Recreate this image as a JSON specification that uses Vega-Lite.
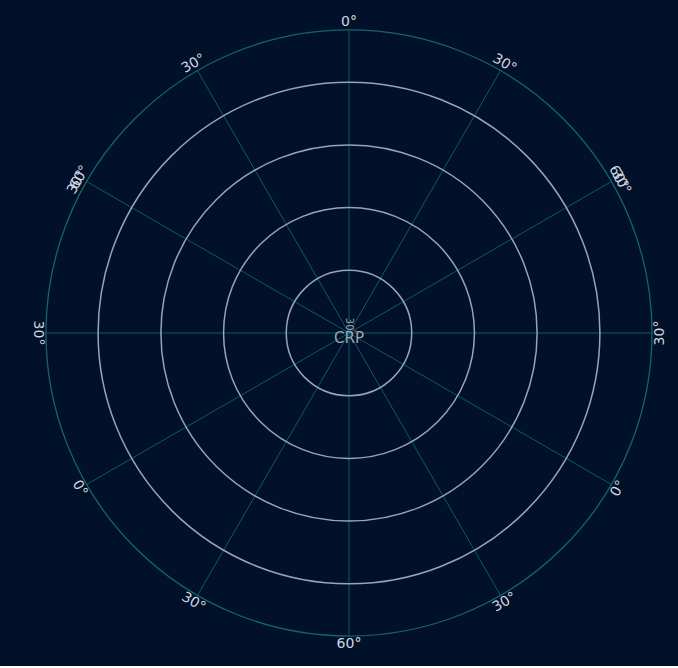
{
  "$schema": "https://vega.github.io/schema/vega-lite/v6.json",
  "width": 660,
  "height": 666,
  "autosize": {"type": "none"},
  "padding": {"left": 19, "top": 0, "right": 0, "bottom": 0},
  "background": "#01112a",
  "config": {"view": {"stroke": null}, "font": "DejaVu Sans"},
  "datasets": {
    "rings": [{"r": 1}, {"r": 2}, {"r": 3}, {"r": 4}],
    "outer": [{"r": 4.833}],
    "spokes": [
      {"bearing": 0, "x0": 0, "y0": 0, "x1": 0, "y1": 4.833},
      {"bearing": 30, "x0": 0, "y0": 0, "x1": 2.4165, "y1": 4.1855},
      {"bearing": 60, "x0": 0, "y0": 0, "x1": 4.1855, "y1": 2.4165},
      {"bearing": 90, "x0": 0, "y0": 0, "x1": 4.833, "y1": 0},
      {"bearing": 120, "x0": 0, "y0": 0, "x1": 4.1855, "y1": -2.4165},
      {"bearing": 150, "x0": 0, "y0": 0, "x1": 2.4165, "y1": -4.1855},
      {"bearing": 180, "x0": 0, "y0": 0, "x1": 0, "y1": -4.833},
      {"bearing": 210, "x0": 0, "y0": 0, "x1": -2.4165, "y1": -4.1855},
      {"bearing": 240, "x0": 0, "y0": 0, "x1": -4.1855, "y1": -2.4165},
      {"bearing": 270, "x0": 0, "y0": 0, "x1": -4.833, "y1": 0},
      {"bearing": 300, "x0": 0, "y0": 0, "x1": -4.1855, "y1": 2.4165},
      {"bearing": 330, "x0": 0, "y0": 0, "x1": -2.4165, "y1": 4.1855}
    ],
    "labels": [
      {"bearing": 0, "r": 4.96, "label": "0°"},
      {"bearing": 30, "r": 4.96, "label": "30°"},
      {"bearing": 60, "r": 4.96, "label": "60°"},
      {"bearing": 61, "r": 4.96, "label": "30°"},
      {"bearing": 90, "r": 4.96, "label": "30°"},
      {"bearing": 120, "r": 4.96, "label": "0°"},
      {"bearing": 150, "r": 4.96, "label": "30°"},
      {"bearing": 180, "r": 4.96, "label": "60°"},
      {"bearing": 210, "r": 4.96, "label": "30°"},
      {"bearing": 240, "r": 4.96, "label": "0°"},
      {"bearing": 270, "r": 4.96, "label": "30°"},
      {"bearing": 300, "r": 4.96, "label": "60°"},
      {"bearing": 299, "r": 4.96, "label": "30°"},
      {"bearing": 330, "r": 4.96, "label": "30°"}
    ],
    "center": [{"x": 0, "y": -0.08, "label": "CRP"}],
    "centerTop": [{"x": 0, "y": 0.14, "label": "30"}],
    "dot": [{"x": 0.1, "y": 0.03}]
  },
  "layer": [
    {
      "data": {"name": "spokes"},
      "mark": {"type": "rule", "stroke": "#0d5a63", "strokeWidth": 1},
      "encoding": {
        "x": {"field": "x0", "type": "quantitative", "scale": {"domain": [-5.263, 5.263], "nice": false, "zero": false}, "axis": null},
        "y": {"field": "y0", "type": "quantitative", "scale": {"domain": [-5.311, 5.311], "nice": false, "zero": false}, "axis": null},
        "x2": {"field": "x1"},
        "y2": {"field": "y1"}
      }
    },
    {
      "data": {"name": "rings"},
      "mark": {"type": "arc", "filled": false, "stroke": "#9ba4b1", "strokeWidth": 1.5},
      "encoding": {
        "theta": {"datum": 0, "type": "quantitative", "stack": null, "scale": {"domain": [0, 360]}},
        "theta2": {"datum": 360},
        "radius": {"field": "r", "type": "quantitative", "stack": null, "scale": {"type": "linear", "domain": [0, 5.263], "zero": true, "nice": false}}
      }
    },
    {
      "data": {"name": "outer"},
      "mark": {"type": "arc", "filled": false, "stroke": "#17636d", "strokeWidth": 1.3},
      "encoding": {
        "theta": {"datum": 0, "type": "quantitative", "stack": null},
        "theta2": {"datum": 360},
        "radius": {"field": "r", "type": "quantitative", "stack": null}
      }
    },
    {
      "data": {"name": "labels"},
      "mark": {"type": "text", "fontSize": 14, "color": "#d3d7de", "baseline": "middle", "align": "center"},
      "encoding": {
        "theta": {"field": "bearing", "type": "quantitative", "stack": null},
        "radius": {"field": "r", "type": "quantitative", "stack": null},
        "angle": {"field": "bearing", "type": "quantitative", "scale": {"type": "linear", "domain": [0, 89, 90, 270, 271, 360], "range": [0, 89, -90, 90, -89, 0]}, "legend": null},
        "text": {"field": "label"}
      }
    },
    {
      "data": {"name": "center"},
      "mark": {"type": "text", "fontSize": 15, "color": "#9aa3ae", "baseline": "middle", "align": "center"},
      "encoding": {
        "x": {"field": "x", "type": "quantitative"},
        "y": {"field": "y", "type": "quantitative"},
        "text": {"field": "label"}
      }
    },
    {
      "data": {"name": "centerTop"},
      "mark": {"type": "text", "fontSize": 10, "color": "#9aa3ae", "baseline": "middle", "align": "center", "angle": 90},
      "encoding": {
        "x": {"field": "x", "type": "quantitative"},
        "y": {"field": "y", "type": "quantitative"},
        "text": {"field": "label"}
      }
    },
    {
      "data": {"name": "dot"},
      "mark": {"type": "point", "filled": true, "color": "#d0303a", "size": 6},
      "encoding": {
        "x": {"field": "x", "type": "quantitative"},
        "y": {"field": "y", "type": "quantitative"}
      }
    }
  ]
}
